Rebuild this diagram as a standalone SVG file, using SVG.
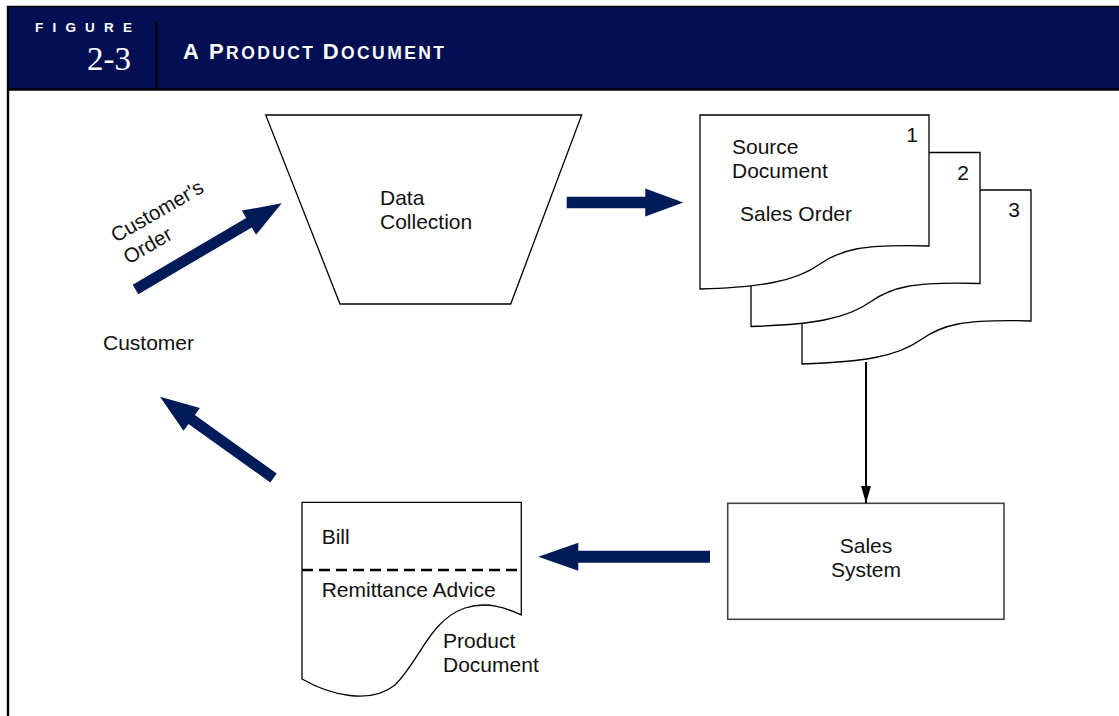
<svg xmlns="http://www.w3.org/2000/svg" width="1119" height="716" viewBox="0 0 1119 716">
<style>
.t{font-family:"Liberation Sans",Arial,Helvetica,sans-serif;font-size:21px;fill:#111;}
.shape{fill:#fff;stroke:#000;stroke-width:1.3;}
.blk{fill:#011b58;}
</style>
<defs>
<path id="docshape" d="M0,0 H229 V131 C160,129 140,135 120,149 C95,167 60,172 0,174 Z"/>
<marker id="ah" markerUnits="userSpaceOnUse" viewBox="0 0 17 10" markerWidth="17" markerHeight="10" refX="17" refY="5" orient="auto">
<path d="M0,0 L17,5 L0,10 Z" fill="#000"/>
</marker>
</defs>
<rect x="0" y="0" width="1119" height="716" fill="#fff"/>
<g id="header">
<rect x="8" y="7" width="1111" height="82" fill="#020f53"/>
<line x1="7" y1="6.5" x2="1119" y2="6.5" stroke="#000" stroke-width="1.5"/>
<line x1="7" y1="89.5" x2="1119" y2="89.5" stroke="#000" stroke-width="2.5"/>
<line x1="8" y1="6" x2="8" y2="716" stroke="#000" stroke-width="2.4"/>
<line x1="156.3" y1="21" x2="156.3" y2="89" stroke="#000" stroke-width="2"/>
<text x="35" y="31.7" font-family="Liberation Sans,Arial,sans-serif" font-weight="bold" font-size="13.5" fill="#fff" textLength="97" lengthAdjust="spacing">FIGURE</text>
<text x="131" y="70" text-anchor="end" font-family="Liberation Serif,Times New Roman,serif" font-size="33" fill="#fff">2-3</text>
<text x="183" y="59.3" font-family="Liberation Sans,Arial,sans-serif" font-weight="bold" fill="#fff" textLength="261" lengthAdjust="spacing"><tspan font-size="22">A P</tspan><tspan font-size="17.5">RODUCT </tspan><tspan font-size="22">D</tspan><tspan font-size="17.5">OCUMENT</tspan></text>
</g>
<g id="customer">
<text class="t" x="103" y="350">Customer</text>
</g>
<g id="data-collection">
<polygon class="shape" points="265.7,115 581.7,115 510.7,304 340,304"/>
<text class="t" x="380" y="205">Data</text>
<text class="t" x="380" y="229">Collection</text>
</g>
<g id="source-document">
<use href="#docshape" class="shape" transform="translate(802,190)"/>
<use href="#docshape" class="shape" transform="translate(751,152.5)"/>
<use href="#docshape" class="shape" transform="translate(700,115)"/>
<text class="t" x="918" y="142" text-anchor="end">1</text>
<text class="t" x="969" y="179.5" text-anchor="end">2</text>
<text class="t" x="1020" y="217" text-anchor="end">3</text>
<text class="t" x="732" y="154">Source</text>
<text class="t" x="732" y="177.5">Document</text>
<text class="t" x="740" y="221">Sales Order</text>
</g>
<g id="sales-system">
<rect x="727.7" y="503.3" width="276.3" height="116" fill="#fff" stroke="#444" stroke-width="1.6"/>
<text class="t" x="866" y="553" text-anchor="middle">Sales</text>
<text class="t" x="866" y="577" text-anchor="middle">System</text>
</g>
<g id="product-document">
<path class="shape" d="M302,502.3 H521.3 V615 C510,610 490,600 465,608 C430,620 420,660 395,685 C370,705 330,695 302,679 Z"/>
<line x1="302" y1="570" x2="521" y2="570" stroke="#000" stroke-width="2.4" stroke-dasharray="11,6"/>
<text class="t" x="321.7" y="544">Bill</text>
<text class="t" x="321.7" y="597">Remittance Advice</text>
<text class="t" x="443" y="647.5">Product</text>
<text class="t" x="443" y="671.5">Document</text>
</g>
<g id="connectors">
<polygon class="blk" transform="translate(135.5,289.5) rotate(-30.5)" points="0,-5.5 131.7,-5.5 131.7,-14 169.7,0 131.7,14 131.7,5.5 0,5.5"/>
<text transform="translate(116,243) rotate(-30)" font-family="Liberation Sans,Arial,sans-serif" font-size="20.5" fill="#111"><tspan x="0" y="0">Customer's</tspan><tspan x="0" y="25">Order</tspan></text>
<polygon class="blk" transform="translate(566.7,202.5)" points="0,-5.8 78.6,-5.8 78.6,-14 116.6,0 78.6,14 78.6,5.8 0,5.8"/>
<line x1="866" y1="362" x2="866" y2="503" stroke="#000" stroke-width="2" marker-end="url(#ah)"/>
<polygon class="blk" transform="translate(710,556.7) rotate(180)" points="0,-6 131.7,-6 131.7,-14 171.7,0 131.7,14 131.7,6 0,6"/>
<polygon class="blk" transform="translate(273.5,478) rotate(-144.4)" points="0,-5.5 100.6,-5.5 100.6,-14 139.6,0 100.6,14 100.6,5.5 0,5.5"/>
</g>
</svg>
